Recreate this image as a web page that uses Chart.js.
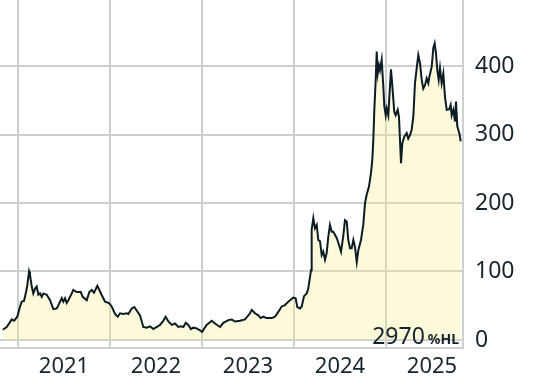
<!DOCTYPE html>
<html>
<head>
<meta charset="utf-8">
<script src="https://cdn.jsdelivr.net/npm/chart.js@4"></script>
<style>
  body { margin: 0; background: #fff; }
  #wrap { width: 558px; height: 382px; }
</style>
</head>
<body>
<div id="wrap"><canvas id="priceChart" width="558" height="382"></canvas></div>
<script>
// date as decimal year
const years = [
  2020.834, 2020.877, 2020.932, 2020.957, 2020.992, 2021.022, 2021.040, 2021.065, 2021.087, 2021.101,
  2021.120, 2021.130, 2021.149, 2021.166, 2021.185, 2021.203, 2021.221, 2021.239, 2021.258, 2021.275,
  2021.312, 2021.348, 2021.384, 2021.421, 2021.457, 2021.475, 2021.492, 2021.511, 2021.529, 2021.547,
  2021.584, 2021.601, 2021.638, 2021.682, 2021.703, 2021.747, 2021.775, 2021.801, 2021.826, 2021.862,
  2021.884, 2021.908, 2021.946, 2021.989, 2022.018, 2022.054, 2022.084, 2022.109, 2022.145, 2022.182,
  2022.199, 2022.236, 2022.264, 2022.290, 2022.326, 2022.362, 2022.399, 2022.435, 2022.471, 2022.508,
  2022.543, 2022.579, 2022.605, 2022.634, 2022.671, 2022.707, 2022.742, 2022.772, 2022.797, 2022.823,
  2022.851, 2022.880, 2022.905, 2022.942, 2022.978, 2023.003, 2023.025, 2023.051, 2023.105, 2023.141,
  2023.196, 2023.232, 2023.286, 2023.323, 2023.359, 2023.413, 2023.467, 2023.522, 2023.540, 2023.576,
  2023.612, 2023.638, 2023.666, 2023.703, 2023.758, 2023.793, 2023.829, 2023.866, 2023.902, 2023.938,
  2023.992, 2024.018, 2024.036, 2024.065, 2024.084, 2024.109, 2024.138, 2024.155, 2024.174, 2024.185,
  2024.192, 2024.210, 2024.228, 2024.247, 2024.264, 2024.283, 2024.301, 2024.318, 2024.337, 2024.355,
  2024.373, 2024.391, 2024.410, 2024.427, 2024.464, 2024.482, 2024.511, 2024.533, 2024.554, 2024.573,
  2024.590, 2024.609, 2024.627, 2024.645, 2024.663, 2024.682, 2024.699, 2024.728, 2024.753, 2024.772,
  2024.790, 2024.815, 2024.837, 2024.851, 2024.862, 2024.873, 2024.888, 2024.899, 2024.910, 2024.924,
  2024.935, 2024.953, 2024.971, 2024.982, 2024.997, 2025.008, 2025.025, 2025.043, 2025.054, 2025.068,
  2025.090, 2025.105, 2025.127, 2025.141, 2025.163, 2025.177, 2025.199, 2025.225, 2025.242, 2025.261,
  2025.279, 2025.297, 2025.315, 2025.340, 2025.351, 2025.370, 2025.388, 2025.405, 2025.424, 2025.442,
  2025.460, 2025.471, 2025.497, 2025.514, 2025.529, 2025.543, 2025.558, 2025.573, 2025.587, 2025.605,
  2025.623, 2025.641, 2025.660, 2025.688, 2025.703, 2025.714, 2025.732, 2025.750, 2025.761, 2025.775,
  2025.797, 2025.812
];
const values = [
  15, 19, 30, 28, 34, 49, 56, 57, 70, 80,
  100, 95, 78, 68, 75, 78, 66, 68, 63, 68,
  66, 58, 45, 46, 56, 61, 56, 61, 54, 58,
  68, 73, 70, 70, 63, 58, 70, 73, 69, 79,
  73, 66, 56, 54, 49, 38, 34, 39, 38, 39,
  38, 46, 48, 43, 36, 19, 18, 20, 16, 19,
  22, 28, 34, 27, 22, 24, 19, 20, 19, 25,
  22, 16, 18, 17, 14, 12, 17, 22, 28, 24,
  19, 25, 29, 30, 27, 28, 30, 39, 44, 39,
  36, 32, 34, 32, 32, 34, 41, 49, 51, 56,
  62, 61, 48, 46, 49, 64, 68, 75, 92, 102,
  161, 178, 163, 168, 146, 144, 124, 129, 117, 127,
  151, 168, 158, 158, 149, 142, 129, 149, 175, 173,
  146, 134, 134, 146, 136, 114, 131, 146, 168, 200,
  212, 224, 244, 263, 292, 336, 380, 421, 389, 401,
  394, 409, 370, 341, 328, 338, 328, 370, 395, 372,
  333, 328, 336, 326, 258, 287, 297, 302, 294, 299,
  307, 326, 375, 404, 416, 404, 380, 367, 372, 382,
  375, 384, 399, 426, 433, 419, 394, 380, 397, 375,
  389, 355, 336, 337, 343, 328, 336, 319, 348, 312,
  302, 290
];
const yearTicks = [2021, 2022, 2023, 2024, 2025];
const valueTicks = [0, 100, 200, 300, 400];
const changeText = '2970';
const changeUnit = '%HL';

const gridColor = '#cdd0d0';
const textColor = '#16252d';

const xMin = 2020.804, xMax = 2025.837;
const yMin = -11.7, yMax = 496.4;

const changeLabel = {
  id: 'changeLabel',
  afterDatasetsDraw(chart) {
    const { ctx, chartArea } = chart;
    const base = chart.scales.y.getPixelForValue(0) + 4;
    ctx.save();
    ctx.fillStyle = textColor;
    ctx.textAlign = 'right';
    ctx.textBaseline = 'alphabetic';
    ctx.font = 'bold 14px "Noto Sans"';
    const right = chartArea.right - 4;
    const unitW = ctx.measureText(changeUnit).width;
    ctx.fillText(changeUnit, right, base);
    ctx.font = '23px "Noto Sans"';
    ctx.fillText(changeText, right - unitW - 3, base);
    ctx.restore();
  }
};

new Chart(document.getElementById('priceChart'), {
  type: 'line',
  data: {
    datasets: [{
      data: years.map((y, i) => ({ x: y, y: values[i] })),
      borderColor: '#0c1c24',
      borderWidth: 2,
      backgroundColor: 'rgba(249, 238, 140, 0.3)',
      fill: 'origin',
      pointRadius: 0,
      tension: 0
    }]
  },
  options: {
    responsive: false,
    devicePixelRatio: 1,
    animation: false,
    layout: { padding: 0 },
    plugins: { legend: { display: false }, tooltip: { enabled: false } },
    scales: {
      x: {
        type: 'linear', position: 'bottom', min: xMin, max: xMax,
        afterBuildTicks: s => { s.ticks = yearTicks.map(v => ({ value: v + 0.5 })); },
        ticks: { callback: v => String(Math.floor(v)), font: { family: '"Noto Sans"', size: 22 }, color: textColor, padding: 6, maxRotation: 0, autoSkip: false },
        grid: { display: false, drawTicks: false },
        border: { display: true, color: gridColor, width: 2 },
        afterFit: s => { s.height = 34; s.paddingLeft = 0; s.paddingRight = 0; }
      },
      xg: {
        type: 'linear', axis: 'x', position: 'bottom', min: xMin, max: xMax,
        afterBuildTicks: s => { s.ticks = yearTicks.map(v => ({ value: v })); },
        ticks: { display: false },
        grid: { color: gridColor, lineWidth: 2, drawTicks: false },
        border: { display: false },
        afterFit: s => { s.height = 0; s.paddingLeft = 0; s.paddingRight = 0; }
      },
      y: {
        position: 'right', min: yMin, max: yMax,
        afterBuildTicks: s => { s.ticks = valueTicks.map(v => ({ value: v })); },
        ticks: { font: { family: '"Noto Sans"', size: 23 }, color: textColor, padding: 12 },
        grid: { color: gridColor, lineWidth: 2, drawTicks: false },
        border: { color: gridColor, width: 2 },
        afterFit: s => { s.width = 95; s.paddingTop = 0; s.paddingBottom = 0; }
      }
    }
  },
  plugins: [changeLabel]
});
</script>
</body>
</html>
